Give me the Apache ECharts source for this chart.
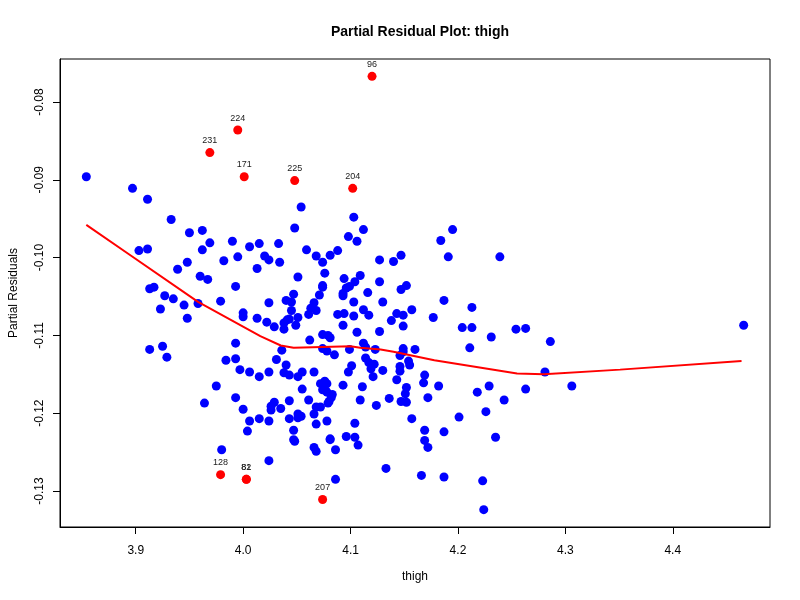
<!DOCTYPE html>
<html>
<head>
<meta charset="utf-8">
<script src="https://cdn.jsdelivr.net/npm/echarts@6/dist/echarts.min.js"></script>
<style>
  html, body { margin: 0; padding: 0; background: #fff; }
  #chart { width: 800px; height: 600px; }
</style>
</head>
<body>
<div id="chart"></div>
<script>
// partial residuals (blue points)
var thighX = [
  3.854, 3.897, 3.911, 3.933, 3.950, 3.962, 3.969, 3.990, 4.006, 4.015,
  3.903, 3.911, 3.962, 3.982, 3.995, 3.948, 3.939, 4.013, 3.960, 3.967,
  3.993, 3.913, 3.917, 3.927, 3.935, 3.945, 3.958, 3.979, 3.923, 3.948,
  4.000, 4.000, 4.013, 3.913, 3.925, 3.929, 3.993, 3.984, 3.993, 3.997,
  4.006, 4.015, 3.975, 3.993, 3.964, 4.000, 4.006, 4.015, 4.004, 3.980,
  4.054, 4.103, 4.112, 4.048, 4.098, 4.106, 4.184, 4.033, 4.059, 4.088,
  4.068, 4.081, 4.020, 4.024, 4.034, 4.074, 4.127, 4.140, 4.147, 4.076,
  4.051, 4.094, 4.109, 4.104, 4.127, 4.074, 4.074, 4.096, 4.099, 4.147,
  4.152, 4.047, 4.093, 4.093, 4.116, 4.071, 4.040, 4.045, 4.024, 4.066,
  4.103, 4.130, 4.157, 4.063, 4.068, 4.045, 4.061, 4.088, 4.094, 4.103,
  4.112, 4.117, 4.143, 4.149, 4.177, 4.022, 4.029, 4.038, 4.041, 4.043,
  4.038, 4.049, 4.051, 4.093, 4.138, 4.149, 4.127, 4.106, 4.074, 4.079,
  4.081, 4.062, 4.112, 4.036, 4.074, 4.078, 4.085, 4.099, 4.114, 4.123,
  4.149, 4.149, 4.160, 4.031, 4.114, 4.146, 4.154, 4.040, 4.101, 4.117,
  4.122, 4.155, 4.146, 4.146, 4.024, 4.038, 4.043, 4.051, 4.055, 4.066,
  4.098, 4.119, 4.121, 4.130, 4.143, 4.072, 4.076, 4.078, 4.093, 4.111,
  4.152, 4.055, 4.074, 4.077, 4.078, 4.151, 4.083, 4.082, 4.080, 4.079,
  4.043, 4.061, 4.109, 4.136, 4.147, 4.152, 4.029, 4.026, 4.124, 4.068,
  4.072, 4.026, 4.035, 4.066, 4.051, 4.054, 4.051, 4.024, 4.043, 4.068,
  4.078, 4.104, 4.157, 4.047, 4.047, 4.048, 4.081, 4.081, 4.096, 4.104,
  4.107, 4.086, 4.066, 4.068, 4.024, 4.133, 4.086, 4.195, 4.191, 4.239,
  4.187, 4.213, 4.204, 4.213, 4.254, 4.263, 4.231, 4.286, 4.211, 4.281,
  4.169, 4.168, 4.182, 4.229, 4.218, 4.263, 4.306, 4.172, 4.243, 4.226,
  4.201, 4.169, 4.187, 4.235, 4.169, 4.172, 4.166, 4.187, 4.223, 4.224,
  4.466
];
var residY = [
  -0.0896, -0.0911, -0.0925, -0.0951, -0.0968, -0.0965, -0.0981, -0.0979, -0.0986, -0.0982,
  -0.0991, -0.0989, -0.0990, -0.1004, -0.0999, -0.1006, -0.1015, -0.1014, -0.1024, -0.1028,
  -0.1037, -0.1040, -0.1038, -0.1049, -0.1053, -0.1061, -0.1059, -0.1056, -0.1066, -0.1078,
  -0.1071, -0.1076, -0.1078, -0.1118, -0.1114, -0.1128, -0.1110, -0.1132, -0.1130, -0.1144,
  -0.1147, -0.1153, -0.1165, -0.1180, -0.1187, -0.1195, -0.1210, -0.1207, -0.1223, -0.1247,
  -0.0935, -0.0948, -0.0964, -0.0962, -0.0973, -0.0979, -0.0978, -0.0982, -0.0990, -0.0991,
  -0.0998, -0.0997, -0.0998, -0.1003, -0.1006, -0.1006, -0.1003, -0.1005, -0.0997, -0.1020,
  -0.1025, -0.1027, -0.1023, -0.1031, -0.1031, -0.1036, -0.1038, -0.1039, -0.1037, -0.1041,
  -0.1036, -0.1047, -0.1046, -0.1049, -0.1045, -0.1048, -0.1055, -0.1057, -0.1058, -0.1058,
  -0.1057, -0.1057, -0.1067, -0.1065, -0.1068, -0.1068, -0.1073, -0.1073, -0.1072, -0.1075,
  -0.1067, -0.1074, -0.1072, -0.1074, -0.1077, -0.1083, -0.1089, -0.1084, -0.1080, -0.1079,
  -0.1092, -0.1087, -0.1077, -0.1087, -0.1081, -0.1088, -0.1095, -0.1096, -0.1099, -0.1100,
  -0.1103, -0.1106, -0.1110, -0.1119, -0.1117, -0.1120, -0.1125, -0.1118, -0.1115, -0.1118,
  -0.1117, -0.1121, -0.1118, -0.1131, -0.1129, -0.1126, -0.1133, -0.1138, -0.1139, -0.1135,
  -0.1137, -0.1138, -0.1140, -0.1146, -0.1147, -0.1148, -0.1151, -0.1153, -0.1147, -0.1147,
  -0.1147, -0.1143, -0.1153, -0.1145, -0.1157, -0.1162, -0.1159, -0.1162, -0.1164, -0.1166,
  -0.1167, -0.1169, -0.1170, -0.1171, -0.1173, -0.1175, -0.1176, -0.1180, -0.1185, -0.1187,
  -0.1184, -0.1183, -0.1183, -0.1181, -0.1185, -0.1186, -0.1186, -0.1191, -0.1190, -0.1192,
  -0.1192, -0.1196, -0.1194, -0.1201, -0.1201, -0.1204, -0.1206, -0.1210, -0.1207, -0.1214,
  -0.1210, -0.1213, -0.1207, -0.1222, -0.1234, -0.1236, -0.1233, -0.1234, -0.1230, -0.1231,
  -0.1241, -0.1247, -0.1244, -0.1249, -0.1261, -0.1271, -0.1285, -0.0964, -0.0999, -0.0999,
  -0.1055, -0.1064, -0.1090, -0.1090, -0.1092, -0.1091, -0.1102, -0.1108, -0.1116, -0.1147,
  -0.1151, -0.1161, -0.1165, -0.1165, -0.1173, -0.1169, -0.1165, -0.1180, -0.1183, -0.1198,
  -0.1205, -0.1222, -0.1224, -0.1231, -0.1235, -0.1244, -0.1280, -0.1282, -0.1287, -0.1324,
  -0.1087
];

// flagged observations (red, labelled)
var outlierLabels = ['96', '224', '231', '171', '225', '204', '128', '81', '82', '207'];
var outlierX = [4.120, 3.995, 3.969, 4.001, 4.048, 4.102, 3.979, 4.003, 4.003, 4.074];
var outlierY = [-0.0767, -0.0836, -0.0865, -0.0896, -0.0901, -0.0911, -0.1279, -0.1285, -0.1285, -0.1311];

// loess smooth
var smoothX = [3.854, 3.893, 3.958, 4.016, 4.035, 4.047, 4.100, 4.109, 4.128, 4.140, 4.178, 4.255, 4.280, 4.351, 4.464];
var smoothY = [-0.0958, -0.0995, -0.1057, -0.1101, -0.1113, -0.1116, -0.1114, -0.1116, -0.1118, -0.1121, -0.1132, -0.1149, -0.1150, -0.1144, -0.1133];

var xTicks = [3.9, 4.0, 4.1, 4.2, 4.3, 4.4];
var yTicks = [-0.13, -0.12, -0.11, -0.10, -0.09, -0.08];

var chart = echarts.init(document.getElementById('chart'));

var blue = thighX.map(function (x, i) { return [x, residY[i]]; });
var red = outlierX.map(function (x, i) { return { value: [x, outlierY[i]], name: outlierLabels[i] }; });
var smooth = smoothX.map(function (x, i) { return [x, smoothY[i]]; });

var font = 'Liberation Sans, Arial, Helvetica, sans-serif';

option = {
    backgroundColor: '#ffffff',
    animation: false,
    textStyle: { fontFamily: font },
    title: {
        text: 'Partial Residual Plot: thigh',
        left: 415,
        top: 20,
        textAlign: 'center',
        textStyle: { fontSize: 14, fontWeight: 'bold', color: '#000', fontFamily: font }
    },
    grid: {
        left: 59, right: 30, top: 59, bottom: 73,
        show: true, borderColor: '#000', borderWidth: 1, backgroundColor: 'transparent'
    },
    xAxis: {
        type: 'value',
        min: 3.8295,
        max: 4.4905,
        name: 'thigh',
        nameLocation: 'middle',
        nameGap: 44,
        nameTextStyle: { fontSize: 12, color: '#000', fontFamily: font },
        splitLine: { show: false },
        axisLine: { show: true, onZero: false, lineStyle: { color: '#000', width: 1 } },
        axisTick: { show: true, length: 7, customValues: xTicks, lineStyle: { color: '#000' } },
        axisLabel: {
            customValues: xTicks,
            margin: 18,
            fontSize: 12,
            color: '#000',
            formatter: function (v) { return v.toFixed(1); }
        }
    },
    yAxis: {
        type: 'value',
        min: -0.13463,
        max: -0.07447,
        name: 'Partial Residuals',
        nameLocation: 'middle',
        nameGap: 40,
        nameRotate: 90,
        nameTextStyle: { fontSize: 12, color: '#000', fontFamily: font },
        splitLine: { show: false },
        axisLine: { show: true, onZero: false, lineStyle: { color: '#000', width: 1 } },
        axisTick: { show: true, length: 7, customValues: yTicks, lineStyle: { color: '#000' } },
        axisLabel: {
            customValues: yTicks,
            rotate: 90,
            margin: 14,
            fontSize: 12,
            color: '#000',
            formatter: function (v) { return v.toFixed(2); }
        }
    },
    series: [
        {
            name: 'residuals',
            type: 'scatter',
            data: blue,
            symbolSize: 9,
            itemStyle: { color: '#0000FF', opacity: 1 },
            z: 2
        },
        {
            name: 'flagged',
            type: 'scatter',
            data: red,
            symbolSize: 9,
            itemStyle: { color: '#FF0000', opacity: 1 },
            label: {
                show: true,
                position: 'top',
                distance: 3,
                formatter: '{b}',
                fontSize: 9,
                color: '#222',
                fontFamily: font
            },
            z: 3
        },
        {
            name: 'smooth',
            type: 'line',
            data: smooth,
            showSymbol: false,
            symbol: 'none',
            lineStyle: { color: '#FF0000', width: 2 },
            z: 4
        }
    ]
};

chart.setOption(option);
</script>
</body>
</html>
